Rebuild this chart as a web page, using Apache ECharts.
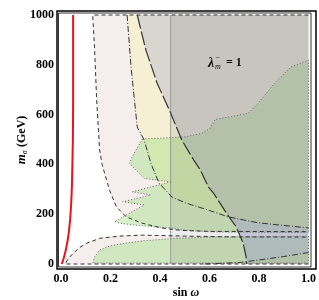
<!DOCTYPE html>
<html><head><meta charset="utf-8">
<script src="https://cdn.jsdelivr.net/npm/echarts@6/dist/echarts.min.js"></script>
<style>html,body{margin:0;padding:0;background:#fff}#c{width:319px;height:300px}</style>
</head><body><div id="c"></div>
<script>
// ---- data (x = sin ω, y = m_σ in GeV) ----
const xTickLabels = ['0.0', '0.2', '0.4', '0.6', '0.8', '1.0'];
const yTickLabels = ['0', '200', '400', '600', '800', '1000'];

const redCurve = [[0.003,0],[0.01,20],[0.018,50],[0.026,90],[0.032,130],[0.037,180],[0.041,240],[0.044,310],[0.046,400],[0.048,500],[0.049,650],[0.049,800],[0.049,1000]];

const pinkUpperCurve = [[0.128,1000],[0.136,859],[0.144,659],[0.156,458],[0.166,400],[0.176,365],[0.196,297],[0.224,229],[0.264,189],[0.324,165],[0.404,145],[0.484,135],[0.6,131],[1.0,130]];
const pinkLowerCurve = [[0.016,0],[0.03,22],[0.049,43],[0.075,66],[0.103,83],[0.156,103],[0.236,112],[0.33,116],[0.5,112],[0.7,109],[1.0,108]];

const yellowUpperCurve = [[0.267,1000],[0.283,791],[0.308,550],[0.336,498],[0.363,405],[0.396,325],[0.448,269],[0.504,245],[0.6,215],[0.676,189],[0.8,165],[1.0,145]];
const yellowLowerCurve = [[0.58,0],[0.65,3],[0.72,6],[0.8,16],[0.9,30],[1.0,46]];

const grayCurve = [[0.308,1000],[0.343,859],[0.388,727],[0.443,606],[0.488,498],[0.536,418],[0.563,377],[0.596,309],[0.616,285],[0.668,205],[0.708,149],[0.736,84],[0.748,28],[0.75,0]];

const blueRegion = [[0.68,188],[0.708,149],[0.736,84],[0.748,28],[0.749,11],[0.8,16],[0.9,30],[1.0,46],[1.0,145],[0.8,165]];

const greenUpperRegion = [[0.329,502],[0.396,505],[0.503,511],[0.569,525],[0.603,545],[0.623,581],[0.688,592],[0.756,605],[0.796,645],[0.863,726],[0.928,791],[1.0,819],
  [1.0,126],[0.8,127],[0.6,129],[0.5,136],[0.44,145],[0.36,151],[0.3,156],[0.25,162],[0.216,170],
  [0.336,237],[0.249,250],[0.363,277],[0.289,290],[0.443,330],[0.336,344],[0.276,404],[0.296,446]];
const greenLowerRegion = [[0.129,4],[0.129,10],[0.136,29],[0.156,56],[0.196,72],[0.25,82],[0.33,93],[0.45,102],[0.6,108],[1.0,112],[1.0,4]];

const shadeEdgeX = 0.443;
const labelLambda = '= 1';

// ---- regions built from the curves ----
const pinkUpperRegion = pinkUpperCurve.concat([[1,1000]]);
const pinkLowerRegion = pinkLowerCurve.concat([[1,0]]);
const yellowUpperRegion = yellowUpperCurve.concat([[1,1000]]);
const yellowLowerRegion = yellowLowerCurve.concat([[1,0]]);
const grayRegion = grayCurve.concat([[1,0],[1,1000]]);
const shadeRegion = [[shadeEdgeX,0],[1,0],[1,1000],[shadeEdgeX,1000]];

function poly(points, fill, z) {
  return {
    type: 'custom', xAxisIndex: 0, yAxisIndex: 0, clip: true, silent: true, z: z,
    data: [[0.5, 500]],
    renderItem: function (params, api) {
      return { type: 'polygon', shape: { points: points.map(p => api.coord(p)) }, style: { fill: fill } };
    }
  };
}
function line(points, color, width, type, z) {
  return {
    type: 'line', xAxisIndex: 0, yAxisIndex: 0, data: points, showSymbol: false, symbol: 'none',
    clip: false, silent: true, z: z,
    lineStyle: { color: color, width: width, type: type }
  };
}
const closed = pts => pts.concat([pts[0]]);

const P = 'rgba(225,200,195,0.3)';
const Y = 'rgba(245,240,175,0.4)';
const G = 'rgba(150,222,118,0.38)';
const K = 'rgba(170,172,200,0.38)';
const B = 'rgba(160,175,235,0.15)';
const O = 'rgba(0,0,0,0.075)';

const serif = 'Liberation Serif';
const chart = echarts.init(document.getElementById('c'), null, { renderer: 'canvas' });
chart.setOption({
  animation: false,
  backgroundColor: '#fff',
  grid: [
    { left: 61, right: 8, top: 15, bottom: 36 },
    { left: 57, right: 3, top: 11, bottom: 31, show: true, borderColor: '#000', borderWidth: 1.5, backgroundColor: 'transparent' },
    { left: 58.5, right: 8, top: 13, bottom: 33, show: true, borderColor: '#333', borderWidth: 1, backgroundColor: 'transparent' }
  ],
  xAxis: [
    { gridIndex: 0, type: 'value', min: 0, max: 1, interval: 0.2,
      axisLine: { show: false }, axisTick: { show: false }, splitLine: { show: false },
      axisLabel: { formatter: (v, i) => xTickLabels[i], fontFamily: serif, fontWeight: 'bold', fontSize: 12, color: '#000', margin: 9 } },
    { gridIndex: 1, show: false, type: 'value' },
    { gridIndex: 2, show: false, type: 'value' }
  ],
  yAxis: [
    { gridIndex: 0, type: 'value', min: 0, max: 1000, interval: 200,
      axisLine: { show: false }, axisTick: { show: false }, splitLine: { show: false },
      axisLabel: { formatter: (v, i) => yTickLabels[i], fontFamily: serif, fontWeight: 'bold', fontSize: 12, color: '#000', margin: 7 } },
    { gridIndex: 1, show: false, type: 'value' },
    { gridIndex: 2, show: false, type: 'value' }
  ],
  graphic: [
    { type: 'text', x: 22, y: 140, rotation: Math.PI / 2, z: 10,
      style: { text: '{i|m}{s|σ} {b|(GeV)}', align: 'center', verticalAlign: 'middle',
        rich: { i: { fontFamily: serif, fontStyle: 'italic', fontWeight: 'bold', fontSize: 13, fill: '#000' },
                s: { fontFamily: serif, fontStyle: 'italic', fontSize: 8, fill: '#000', padding: [6, 0, 0, 0] },
                b: { fontFamily: serif, fontWeight: 'bold', fontSize: 12, fill: '#000' } } } },
    { type: 'text', x: 186, y: 293, z: 10,
      style: { text: '{b|sin }{i|ω}', align: 'center', verticalAlign: 'middle',
        rich: { b: { fontFamily: serif, fontWeight: 'bold', fontSize: 12, fill: '#000' },
                i: { fontFamily: serif, fontStyle: 'italic', fontWeight: 'bold', fontSize: 12, fill: '#000' } } } },
    { type: 'text', x: 208, y: 63, z: 10, style: { text: 'λ', fontFamily: serif, fontStyle: 'italic', fontWeight: 'bold', fontSize: 14, fill: '#111', verticalAlign: 'middle' } },
    { type: 'text', x: 215, y: 67, z: 10, style: { text: 'm', fontFamily: serif, fontStyle: 'italic', fontSize: 8, fill: '#111', verticalAlign: 'middle' } },
    { type: 'text', x: 215.5, y: 58, z: 10, style: { text: '−', fontFamily: serif, fontSize: 8, fill: '#111', verticalAlign: 'middle' } },
    { type: 'text', x: 226, y: 63, z: 10, style: { text: labelLambda, fontFamily: serif, fontWeight: 'bold', fontSize: 12, fill: '#111', verticalAlign: 'middle' } }
  ],
  series: [
    poly(pinkUpperRegion, P, 1),
    poly(pinkLowerRegion, P, 1),
    poly(yellowUpperRegion, Y, 1),
    poly(yellowLowerRegion, Y, 1),
    poly(greenUpperRegion, G, 1),
    poly(greenLowerRegion, G, 1),
    poly(grayRegion, K, 1),
    poly(blueRegion, B, 1),
    poly(shadeRegion, O, 1),
    line([[shadeEdgeX,0],[shadeEdgeX,1000]], '#9a9a9a', 1, 'solid', 3),
    line(closed(greenUpperRegion), '#666', 1, [1, 2], 4),
    line(closed(greenLowerRegion), '#666', 1, [1, 2], 4),
    line([[1,1000]].concat(pinkUpperCurve), '#333', 1, [4, 3], 5),
    line([[1,0]].concat(pinkLowerCurve), '#333', 1, [4, 3], 5),
    line(yellowUpperCurve, '#333', 1, [6, 2, 1, 2], 5),
    line(yellowLowerCurve, '#333', 1, [6, 2, 1, 2], 5),
    line(grayCurve, '#333', 1.2, [14, 3], 5),
    line(redCurve, '#e8141b', 2, 'solid', 6)
  ]
});
</script></body></html>
